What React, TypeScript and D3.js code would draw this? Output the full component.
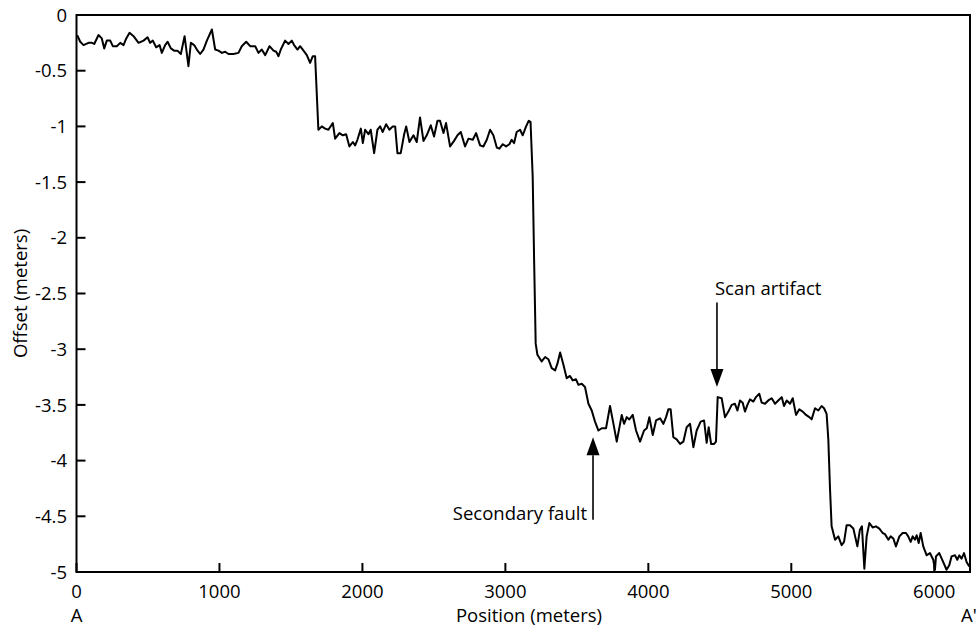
import React from "react";
import * as d3 from "d3";

// Profile A–A': position along profile (m) and vertical offset (m)
const positions: number[] = [
  5, 26, 49, 84, 108, 124, 154, 177, 194, 212, 236, 254, 282, 306, 329, 348, 371, 399, 434, 469,
  497, 515, 534, 557, 581, 597, 620, 637, 660, 683, 706, 730, 756, 783, 800, 823, 842, 865, 888, 912,
  947, 970, 993, 1017, 1040, 1063, 1098, 1133, 1156, 1187, 1215, 1250, 1273, 1296, 1320, 1350, 1378, 1397, 1413, 1429,
  1459, 1483, 1506, 1522, 1546, 1564, 1588, 1611, 1634, 1653, 1669,
  1692, 1716, 1739, 1762, 1793, 1809, 1839, 1863, 1886, 1909, 1933, 1949, 1965, 1989, 2003, 2019, 2042, 2058, 2082,
  2105, 2124, 2142, 2166, 2189, 2212, 2229, 2245, 2268, 2292, 2306, 2329, 2357, 2380, 2403, 2427, 2450, 2478, 2501, 2525,
  2543, 2567, 2585, 2613, 2641, 2665, 2688, 2718, 2742, 2772, 2795, 2823, 2846, 2870, 2893, 2916, 2940, 2958, 2982, 3005,
  3028, 3044, 3061, 3079, 3103, 3121, 3145, 3163, 3176,
  3191, 3201, 3212, 3224, 3254, 3278, 3301, 3324, 3348, 3364, 3383, 3406, 3429, 3452, 3471, 3494, 3511, 3534, 3557, 3581,
  3604, 3627, 3651, 3674, 3704, 3732, 3756, 3779, 3814, 3830, 3849, 3867, 3891, 3914, 3942, 3970, 3989, 4007, 4031, 4054,
  4082, 4105, 4124, 4140, 4156, 4175, 4198, 4222, 4245, 4268, 4292, 4315, 4338, 4366, 4390, 4408, 4422, 4439, 4460, 4473,
  4485, 4513, 4536, 4560, 4583, 4606, 4623, 4641, 4660, 4676, 4693, 4711, 4735, 4753, 4776, 4793, 4816, 4839, 4863, 4886,
  4909, 4933, 4949, 4968, 4991, 5010, 5033, 5056, 5080, 5103, 5126, 5142, 5166, 5189, 5212, 5229, 5247,
  5259, 5271, 5282, 5306, 5329, 5352, 5369, 5387, 5410, 5434, 5462, 5480, 5494, 5511, 5527, 5546, 5569, 5592, 5616, 5639,
  5655, 5679, 5695, 5714, 5732, 5756, 5779, 5802, 5818, 5835, 5849, 5865, 5877, 5891, 5905, 5923, 5947, 5970, 5993, 6005,
  6012, 6035, 6059, 6086, 6105, 6121, 6145, 6161, 6175, 6191, 6208, 6226, 6245,
];

const offsets: number[] = [
  -0.18, -0.24, -0.27, -0.25, -0.25, -0.26, -0.18, -0.21, -0.30, -0.23, -0.23, -0.28, -0.28, -0.25, -0.27, -0.21, -0.16, -0.19, -0.25, -0.23,
  -0.20, -0.25, -0.23, -0.29, -0.27, -0.34, -0.27, -0.24, -0.30, -0.32, -0.32, -0.35, -0.19, -0.46, -0.25, -0.27, -0.31, -0.35, -0.31, -0.23,
  -0.13, -0.31, -0.32, -0.34, -0.33, -0.35, -0.35, -0.34, -0.28, -0.24, -0.28, -0.28, -0.34, -0.31, -0.36, -0.28, -0.32, -0.33, -0.37, -0.31,
  -0.23, -0.26, -0.23, -0.27, -0.31, -0.28, -0.32, -0.36, -0.43, -0.37, -0.37,
  -1.03, -1.00, -1.02, -1.03, -0.97, -1.11, -1.06, -1.08, -1.07, -1.18, -1.14, -1.17, -1.12, -1.02, -1.15, -1.03, -1.07, -1.03, -1.24,
  -1.03, -1.00, -1.05, -0.98, -1.03, -1.00, -1.00, -1.24, -1.24, -1.07, -1.00, -1.14, -1.08, -1.14, -0.92, -1.13, -1.08, -0.99, -1.09, -0.95,
  -0.95, -1.06, -0.97, -1.18, -1.13, -1.08, -1.05, -1.18, -1.11, -1.12, -1.06, -1.17, -1.18, -1.12, -1.03, -1.08, -1.19, -1.20, -1.16, -1.18,
  -1.16, -1.12, -1.15, -1.05, -1.03, -1.08, -1.00, -0.95, -0.96,
  -1.45, -2.20, -2.95, -3.05, -3.11, -3.07, -3.09, -3.17, -3.19, -3.13, -3.03, -3.14, -3.26, -3.24, -3.28, -3.27, -3.32, -3.31, -3.34, -3.49,
  -3.55, -3.65, -3.73, -3.71, -3.71, -3.51, -3.67, -3.83, -3.59, -3.67, -3.61, -3.63, -3.59, -3.73, -3.83, -3.73, -3.71, -3.61, -3.77, -3.64,
  -3.62, -3.67, -3.61, -3.54, -3.54, -3.79, -3.81, -3.85, -3.83, -3.70, -3.67, -3.88, -3.73, -3.65, -3.64, -3.84, -3.70, -3.85, -3.85, -3.83,
  -3.43, -3.44, -3.61, -3.56, -3.50, -3.49, -3.55, -3.46, -3.48, -3.56, -3.50, -3.45, -3.47, -3.43, -3.40, -3.48, -3.49, -3.46, -3.44, -3.49,
  -3.46, -3.43, -3.51, -3.46, -3.49, -3.44, -3.59, -3.54, -3.56, -3.59, -3.61, -3.63, -3.53, -3.55, -3.51, -3.53, -3.58,
  -3.81, -4.26, -4.59, -4.71, -4.68, -4.76, -4.73, -4.58, -4.58, -4.61, -4.77, -4.62, -4.59, -4.97, -4.68, -4.56, -4.60, -4.59, -4.61, -4.65,
  -4.66, -4.71, -4.68, -4.70, -4.77, -4.68, -4.65, -4.65, -4.68, -4.73, -4.68, -4.71, -4.67, -4.74, -4.65, -4.77, -4.85, -4.83, -4.89, -4.98,
  -4.86, -4.83, -4.90, -4.98, -4.94, -4.86, -4.85, -4.89, -4.85, -4.88, -4.83, -4.91, -4.95,
];

const xTicks: number[] = [0, 1000, 2000, 3000, 4000, 5000, 6000];
const yTicks: number[] = [0, -0.5, -1, -1.5, -2, -2.5, -3, -3.5, -4, -4.5, -5];
const yTickLabels: string[] = ["0", "-0.5", "-1", "-1.5", "-2", "-2.5", "-3", "-3.5", "-4", "-4.5", "-5"];
const endLabels: string[] = ["A", "A'"];
const xTitle = "Position (meters)";
const yTitle = "Offset (meters)";

// annotations: label, position, arrow tail offset, arrow tip offset
const annoLabels: string[] = ["Scan artifact", "Secondary fault"];
const annoPositions: number[] = [4480, 3613];
const annoTails: number[] = [-2.58, -4.53];
const annoTips: number[] = [-3.34, -3.79];

const W = 978;
const H = 631;
const left = 76.5;
const right = 970;
const top = 15;
const bottom = 572;
const FONT = "'Open Sans', 'DejaVu Sans', sans-serif";

export default function App() {
  const x = d3.scaleLinear().domain([0, 6250]).range([left, right]);
  const y = d3.scaleLinear().domain([0, -5]).range([top, bottom]);
  const data = positions.map((p, i) => [p, offsets[i]] as [number, number]);
  const line = d3
    .line<[number, number]>()
    .x((d) => x(d[0]))
    .y((d) => y(d[1]));

  const fs = 18.5;

  return (
    <svg
      width={W}
      height={H}
      style={{ position: "absolute", left: 0, top: 0, background: "#fff" }}
      fontFamily={FONT}
    >
      <rect x={0} y={0} width={W} height={H} fill="#fff" />
      <path d={line(data) || ""} fill="none" stroke="#000" strokeWidth={2} strokeLinejoin="round" />
      {/* frame */}
      <rect x={left} y={top} width={right - left} height={bottom - top} fill="none" stroke="#000" strokeWidth={2} />
      {/* y ticks */}
      {yTicks.map((t, i) => (
        <g key={"y" + i}>
          <line x1={left} x2={left + 9} y1={y(t)} y2={y(t)} stroke="#000" strokeWidth={2} />
          <text x={67} y={y(t)} dy="0.36em" textAnchor="end" fontSize={fs} fill="#000">
            {yTickLabels[i]}
          </text>
        </g>
      ))}
      {/* x ticks */}
      {xTicks.map((t, i) => (
        <g key={"x" + i}>
          <line x1={x(t)} x2={x(t)} y1={bottom} y2={bottom - 9} stroke="#000" strokeWidth={2} />
          <text x={x(t)} y={598} textAnchor="middle" fontSize={fs} fill="#000">
            {String(t)}
          </text>
        </g>
      ))}
      <text x={x(0)} y={622} textAnchor="middle" fontSize={fs} fill="#000">
        {endLabels[0]}
      </text>
      <text x={x(6250) - 1} y={622} textAnchor="middle" fontSize={fs} fill="#000">
        {endLabels[1]}
      </text>
      <text x={529} y={622} textAnchor="middle" fontSize={fs} fill="#000">
        {xTitle}
      </text>
      <text
        transform={`translate(27, ${(top + bottom) / 2}) rotate(-90)`}
        textAnchor="middle"
        fontSize={fs}
        fill="#000"
      >
        {yTitle}
      </text>
      {/* annotations */}
      {annoLabels.map((lab, i) => {
        const ax = x(annoPositions[i]);
        const tail = y(annoTails[i]);
        const tip = y(annoTips[i]);
        const dir = tip > tail ? 1 : -1;
        const headLen = 18;
        const headW = 6.5;
        const base = tip - dir * headLen;
        return (
          <g key={"a" + i}>
            <line x1={ax} x2={ax} y1={tail} y2={base} stroke="#000" strokeWidth={1.6} />
            <path d={`M${ax},${tip} L${ax - headW},${base} L${ax + headW},${base} Z`} fill="#000" />
            {dir > 0 ? (
              <text x={ax - 2} y={tail - 7} textAnchor="start" fontSize={fs} fill="#000">
                {lab}
              </text>
            ) : (
              <text x={ax - 6} y={tail} textAnchor="end" fontSize={fs} fill="#000">
                {lab}
              </text>
            )}
          </g>
        );
      })}
    </svg>
  );
}
